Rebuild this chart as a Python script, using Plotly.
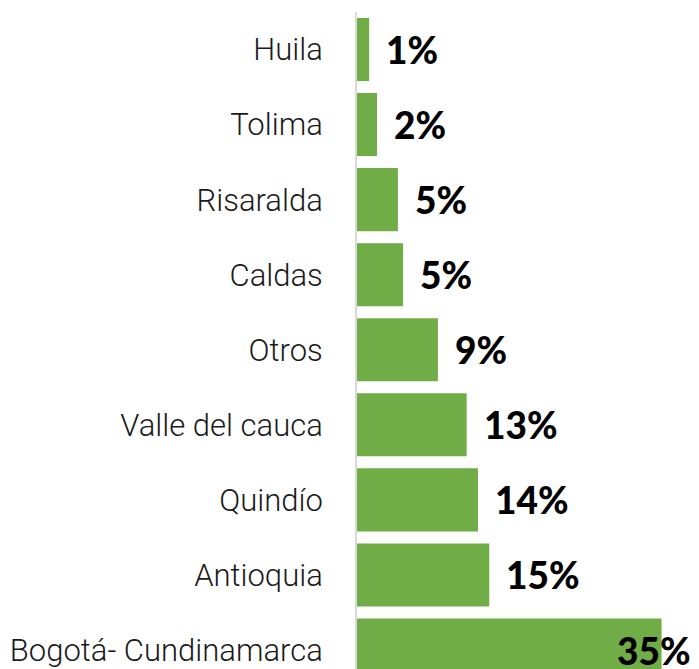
import plotly.graph_objects as go

# categories from bottom to top
categories = ["Bogotá- Cundinamarca", "Antioquia", "Quindío", "Valle del cauca",
              "Otros", "Caldas", "Risaralda", "Tolima", "Huila"]
values = [35.0, 15.2, 13.9, 12.6, 9.3, 5.3, 4.7, 2.3, 1.4]
labels = [f"{round(v)}%" for v in values]

fig = go.Figure()
fig.add_trace(go.Bar(
    y=categories, x=values, orientation="h",
    marker=dict(color="#70AD47", line=dict(width=0)),
    width=0.84, hoverinfo="skip",
))

for i, (c, v, t) in enumerate(zip(categories, values, labels)):
    last = (i == 0)
    fig.add_annotation(
        x=v, y=c, xref="x", yref="y", text=t, showarrow=False,
        xanchor="left", yanchor="middle",
        xshift=(-47 if last else 15),
        font=dict(family="Lato", size=37, color="#000000", weight=900),
    )

fig.update_layout(
    width=691, height=661,
    margin=dict(l=349, r=0, t=4, b=0),
    paper_bgcolor="white", plot_bgcolor="white",
    showlegend=False,
    xaxis=dict(range=[0, 39.3], visible=False, fixedrange=True),
    yaxis=dict(
        type="category", categoryorder="array", categoryarray=categories,
        range=[-0.253, 8.5],
        showline=True, linecolor="#d9d9d9", linewidth=2,
        showgrid=False, ticks="", ticklabelstandoff=26,
        tickfont=dict(family="Roboto", size=31, color="#1a1a1a", weight=300),
    ),
)

fig.write_html("out.html")
